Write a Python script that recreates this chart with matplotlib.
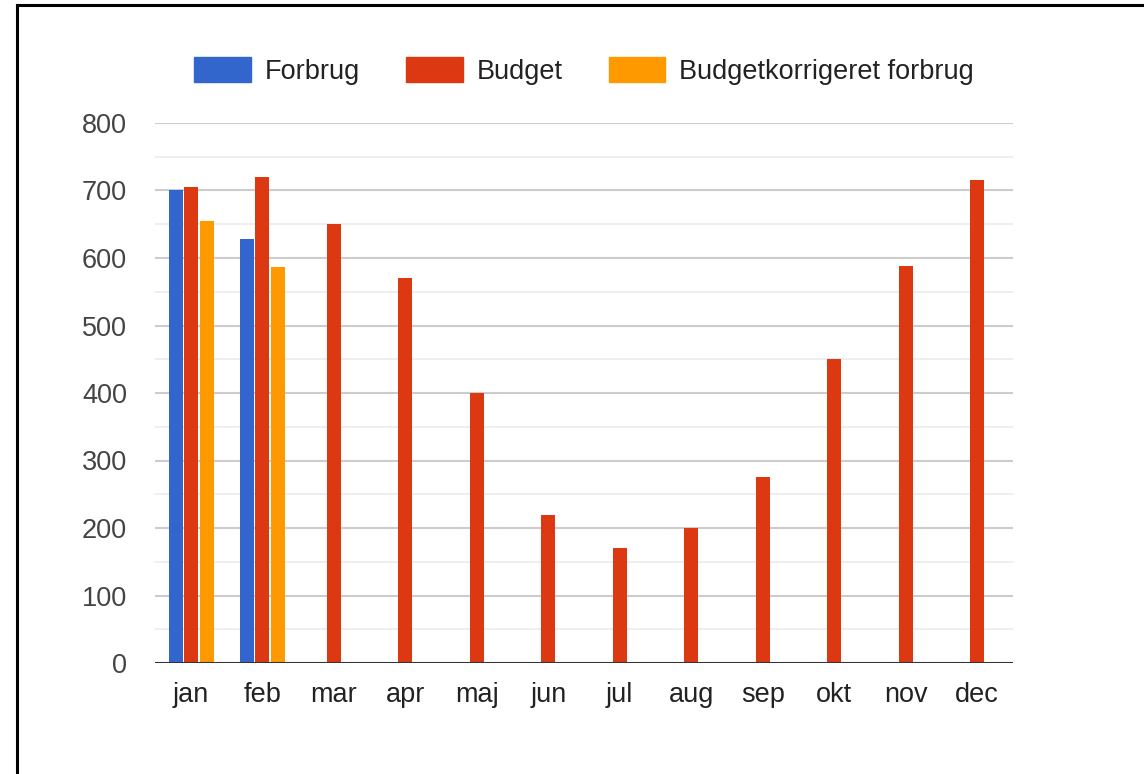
import numpy as np
import matplotlib.pyplot as plt
from matplotlib.lines import Line2D
from matplotlib.patches import Patch

plt.rcParams['font.family'] = ['Liberation Sans', 'DejaVu Sans']

maaneder = ['jan', 'feb', 'mar', 'apr', 'maj', 'jun', 'jul', 'aug', 'sep', 'okt', 'nov', 'dec']
forbrug = [700, 628]
budget = [705, 720, 650, 570, 400, 220, 170, 200, 275, 450, 588, 715]
korrigeret = [655, 587]

farver = ['#3366cc', '#dc3912', '#ff9900']
navne = ['Forbrug', 'Budget', 'Budgetkorrigeret forbrug']

W, H = 1144, 774
fig = plt.figure(figsize=(W / 100, H / 100), dpi=100)
ax = fig.add_axes([155 / W, (H - 663) / H, 858 / W, 540 / H])

bredde = 0.195
x = np.arange(len(maaneder))
ax.bar(x[:len(forbrug)] - 0.208, forbrug, bredde, color=farver[0], zorder=3)
ax.bar(x, budget, bredde, color=farver[1], zorder=3)
ax.bar(x[:len(korrigeret)] + 0.222, korrigeret, bredde, color=farver[2], zorder=3)

ax.set_xlim(-0.5, 11.5)
ax.set_ylim(0, 800)
ax.set_yticks(np.arange(0, 801, 100))
ax.set_yticks(np.arange(50, 800, 100), minor=True)
ax.set_xticks(x)
ax.set_xticklabels(maaneder)

# gitterlinjer
ax.grid(axis='y', which='major', color='#cccccc', linewidth=1.5, zorder=0)
ax.grid(axis='y', which='minor', color='#ebebeb', linewidth=1.2, zorder=0)
ax.axhline(0, color='#333333', linewidth=2.2, zorder=4)

for s in ax.spines.values():
    s.set_visible(False)
ax.tick_params(axis='both', which='both', length=0)
ax.tick_params(axis='y', labelsize=19.5, labelcolor='#444444', pad=20)
ax.tick_params(axis='x', labelsize=19.5, labelcolor='#222222', pad=14)

handles = [Patch(color=c) for c in farver]
fig.legend(handles, navne, loc='center', bbox_to_anchor=(584 / W, 1 - 71 / H),
           ncol=3, frameon=False, fontsize=19.5, labelcolor='#222222',
           handlelength=2.1, handleheight=1.05, handletextpad=0.5, columnspacing=1.7)

# ramme
fig.add_artist(Line2D([17 / W, 17 / W], [0, 1 - 5 / H], color='black', linewidth=2.2))
fig.add_artist(Line2D([17 / W, 1], [1 - 5 / H, 1 - 5 / H], color='black', linewidth=2.2))

fig.savefig('out.png', dpi=100)
